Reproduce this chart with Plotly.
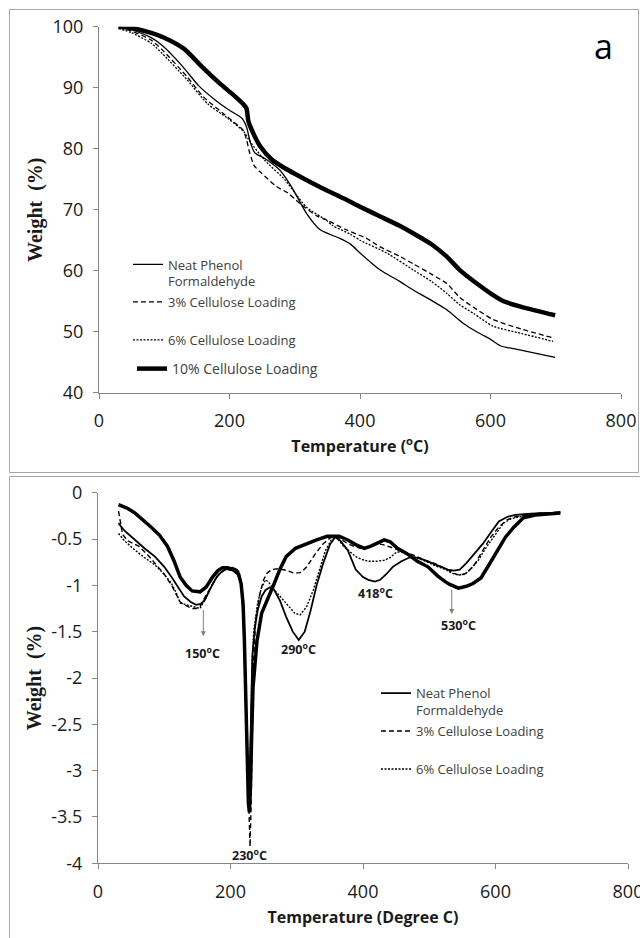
import plotly.graph_objects as go

# ---------------- TGA (top panel) ----------------
T_neat = [30, 50, 80, 97, 128, 153, 178, 200, 219, 226, 232, 239, 254, 277, 290, 298, 318, 339, 369, 385, 400, 431, 460, 482, 510, 533, 558, 580, 598, 615, 650, 699]
W_neat = [100, 99.5, 98.2, 96.9, 93.5, 90.3, 88.0, 86.3, 85.0, 83.6, 81.0, 79.3, 78.4, 76.5, 74.6, 73.2, 69.4, 66.7, 65.3, 64.4, 62.9, 60.1, 58.3, 56.8, 55.1, 53.6, 51.4, 49.9, 48.9, 47.7, 46.9, 45.8]

T_3 = [30, 50, 80, 97, 135, 160, 197, 221, 226, 231, 238, 249, 272, 290, 308, 335, 349, 379, 410, 431, 460, 482, 510, 533, 553, 574, 604, 648, 696]
W_3 = [99.8, 99.3, 97.8, 96.2, 91.8, 88.5, 85.2, 83.0, 81.5, 79.3, 77.2, 76.0, 73.8, 72.7, 71.0, 68.9, 68.3, 66.7, 65.3, 63.9, 62.4, 61.1, 59.4, 57.9, 55.6, 54.0, 52.0, 50.4, 49.0]

T_6 = [30, 50, 80, 97, 135, 166, 197, 222, 230, 254, 285, 300, 318, 348, 358, 385, 400, 441, 482, 510, 533, 553, 574, 604, 648, 696]
W_6 = [99.7, 99.0, 97.3, 95.6, 91.3, 87.4, 85.0, 82.8, 81.4, 78.1, 74.9, 72.8, 70.4, 68.3, 67.4, 66.0, 65.0, 62.9, 60.1, 58.2, 56.3, 54.4, 53.0, 50.9, 49.7, 48.4]

T_10 = [30, 50, 80, 100, 130, 160, 185, 205, 222, 226, 229, 234, 247, 265, 285, 300, 328, 360, 380, 400, 431, 460, 482, 510, 533, 553, 579, 600, 620, 650, 699]
W_10 = [100, 99.8, 99.0, 98.2, 96.4, 93.2, 90.7, 88.9, 87.2, 86.6, 84.5, 83.1, 80.4, 78.2, 76.8, 75.9, 74.3, 72.6, 71.6, 70.5, 68.9, 67.4, 66.1, 64.3, 62.3, 60.1, 57.9, 56.3, 55.0, 54.0, 52.7]

# ---------------- DTG (bottom panel) ----------------
Td_neat = [31, 40, 56, 70, 86, 100, 111, 122, 130, 140, 148, 155, 161, 170, 179, 187, 195, 203, 210, 214, 217, 220, 222, 224, 226, 227.5, 229, 231, 233, 237, 241, 247, 253, 260, 266, 275, 284, 294, 303, 312, 321, 330, 340, 350, 358, 366, 377, 389, 400, 408, 418, 426, 435, 445, 458, 470, 482, 494, 507, 519, 528, 537, 546, 556, 568, 581, 593, 605, 618, 630, 648, 667, 683, 698]
D_neat = [-0.33, -0.41, -0.51, -0.60, -0.69, -0.80, -0.91, -1.03, -1.12, -1.18, -1.21, -1.20, -1.16, -1.03, -0.91, -0.85, -0.82, -0.81, -0.83, -0.90, -1.01, -1.3, -1.8, -2.5, -3.1, -3.4, -3.1, -2.3, -1.75, -1.45, -1.27, -1.12, -1.05, -1.02, -1.05, -1.17, -1.34, -1.50, -1.59, -1.50, -1.27, -1.00, -0.76, -0.56, -0.48, -0.52, -0.62, -0.83, -0.91, -0.94, -0.96, -0.94, -0.88, -0.80, -0.74, -0.70, -0.70, -0.73, -0.77, -0.80, -0.83, -0.84, -0.83, -0.76, -0.66, -0.55, -0.43, -0.31, -0.26, -0.24, -0.23, -0.22, -0.22, -0.21]

Td_3 = [31, 34, 37, 45, 62, 75, 86, 100, 111, 118, 124, 133, 142, 148, 154, 162, 173, 182, 192, 203, 213, 217, 220, 222, 224, 226, 228, 229.5, 231, 233, 235, 238, 244, 250, 255, 262, 272, 285, 297, 307, 315, 328, 340, 350, 358, 366, 377, 387, 396, 408, 420, 430, 439, 451, 463, 478, 494, 507, 519, 530, 537, 546, 556, 568, 581, 593, 605, 618, 630, 648, 667, 683, 698]
D_3 = [-0.2, -0.35, -0.45, -0.52, -0.58, -0.67, -0.76, -0.88, -1.0, -1.1, -1.18, -1.22, -1.25, -1.25, -1.23, -1.12, -0.98, -0.88, -0.83, -0.84, -0.87, -1.09, -1.5, -2.0, -2.6, -3.2, -3.6, -3.82, -3.4, -2.4, -1.8, -1.37, -1.1, -0.94, -0.87, -0.83, -0.82, -0.84, -0.87, -0.86, -0.80, -0.66, -0.55, -0.49, -0.47, -0.50, -0.55, -0.58, -0.60, -0.59, -0.55, -0.56, -0.58, -0.61, -0.64, -0.68, -0.73, -0.76, -0.80, -0.84, -0.87, -0.89, -0.87, -0.78, -0.62, -0.48, -0.37, -0.29, -0.26, -0.24, -0.22, -0.22, -0.21]

Td_6 = [31, 40, 56, 70, 86, 100, 111, 118, 124, 133, 142, 148, 154, 162, 173, 182, 192, 203, 213, 218, 221, 223, 225, 227, 228.5, 230, 232, 235, 241, 247, 253, 258, 266, 275, 284, 297, 305, 315, 325, 334, 343, 352, 360, 371, 380, 389, 398, 408, 420, 432, 441, 451, 463, 476, 488, 500, 513, 525, 535, 544, 553, 562, 575, 587, 600, 612, 624, 636, 655, 673, 698]
D_6 = [-0.44, -0.52, -0.62, -0.70, -0.78, -0.88, -0.98, -1.08, -1.19, -1.21, -1.23, -1.24, -1.25, -1.15, -0.98, -0.88, -0.83, -0.82, -0.85, -1.1, -1.5, -2.1, -2.8, -3.3, -3.4, -2.8, -2.0, -1.5, -1.19, -1.02, -0.94, -0.97, -1.05, -1.12, -1.19, -1.30, -1.32, -1.23, -1.05, -0.83, -0.63, -0.51, -0.48, -0.58, -0.64, -0.69, -0.72, -0.74, -0.74, -0.73, -0.70, -0.64, -0.64, -0.69, -0.72, -0.76, -0.80, -0.83, -0.87, -0.89, -0.88, -0.83, -0.72, -0.58, -0.45, -0.33, -0.28, -0.26, -0.24, -0.22, -0.21]

Td_10 = [31, 45, 56, 68, 80, 93, 105, 115, 124, 133, 142, 154, 163, 173, 181, 188, 196, 204, 212, 216, 219, 221, 223, 225, 227, 228.5, 230, 232, 234, 237, 240, 247, 253, 259, 266, 275, 284, 298, 315, 330, 346, 364, 377, 389, 402, 411, 420, 432, 441, 452, 467, 482, 498, 513, 524, 531, 544, 556, 566, 578, 590, 603, 615, 628, 642, 660, 680, 698]
D_10 = [-0.13, -0.17, -0.22, -0.29, -0.37, -0.46, -0.58, -0.74, -0.91, -1.0, -1.06, -1.07, -1.02, -0.91, -0.84, -0.81, -0.81, -0.83, -0.88, -0.98, -1.2, -1.6, -2.2, -2.9, -3.35, -3.45, -3.2, -2.6, -2.1, -1.85, -1.6, -1.3, -1.2, -1.12, -0.98, -0.82, -0.69, -0.60, -0.55, -0.51, -0.47, -0.47, -0.51, -0.56, -0.60, -0.58, -0.55, -0.51, -0.53, -0.60, -0.66, -0.74, -0.80, -0.90, -0.96, -0.99, -1.03, -1.01, -0.98, -0.92, -0.78, -0.62, -0.48, -0.37, -0.27, -0.24, -0.23, -0.22]

x_ticks = [0, 200, 400, 600, 800]
y1_ticks = [40, 50, 60, 70, 80, 90, 100]
y2_ticks = [0, -0.5, -1, -1.5, -2, -2.5, -3, -3.5, -4]
y2_text = ["0", "-0.5", "-1", "-1.5", "-2", "-2.5", "-3", "-3.5", "-4"]

peak_labels = ["150", "230", "290", "418", "530"]
peak_x = [157, 229, 303, 419, 544]
peak_y = [-1.73, -3.91, -1.69, -1.08, -1.43]

W, H = 640, 938
def px(x): return x / W
def py(y): return 1 - y / H

FONT = "Open Sans"
AX = "#868686"
TXT = "#1a1a1a"
LEG = "#404040"

fig = go.Figure()

# top traces
fig.add_trace(go.Scatter(x=T_neat, y=W_neat, mode="lines", name="Neat Phenol<br>Formaldehyde",
                         line=dict(color="black", width=1.3, shape="spline", smoothing=0.6),
                         xaxis="x", yaxis="y", legend="legend"))
fig.add_trace(go.Scatter(x=T_3, y=W_3, mode="lines", name="3% Cellulose Loading",
                         line=dict(color="black", width=1.3, dash="5px,3px", shape="spline", smoothing=0.6),
                         xaxis="x", yaxis="y", legend="legend2"))
fig.add_trace(go.Scatter(x=T_6, y=W_6, mode="lines", name="6% Cellulose Loading",
                         line=dict(color="black", width=1.3, dash="2px,1.5px", shape="spline", smoothing=0.6),
                         xaxis="x", yaxis="y", legend="legend3"))
fig.add_trace(go.Scatter(x=T_10, y=W_10, mode="lines", name="10% Cellulose Loading",
                         line=dict(color="black", width=4.5, shape="spline", smoothing=0.6),
                         xaxis="x", yaxis="y", legend="legend4"))

# bottom traces
fig.add_trace(go.Scatter(x=Td_10, y=D_10, mode="lines", name="10% Cellulose Loading",
                         line=dict(color="black", width=3.5), showlegend=False,
                         xaxis="x2", yaxis="y2"))
fig.add_trace(go.Scatter(x=Td_neat, y=D_neat, mode="lines", name="Neat Phenol<br>Formaldehyde",
                         line=dict(color="black", width=1.8),
                         xaxis="x2", yaxis="y2", legend="legend5"))
fig.add_trace(go.Scatter(x=Td_3, y=D_3, mode="lines", name="3% Cellulose Loading",
                         line=dict(color="black", width=1.4, dash="5px,3px"),
                         xaxis="x2", yaxis="y2", legend="legend6"))
fig.add_trace(go.Scatter(x=Td_6, y=D_6, mode="lines", name="6% Cellulose Loading",
                         line=dict(color="black", width=1.4, dash="2px,1.5px"),
                         xaxis="x2", yaxis="y2", legend="legend7"))

axis_common = dict(showline=True, linecolor=AX, linewidth=1, ticks="outside", ticklen=5,
                   tickcolor=AX, showgrid=False, zeroline=False, automargin=False,
                   ticklabeloverflow="allow",
                   tickfont=dict(family=FONT, size=18, color=TXT))

ytitle_font = dict(family="Liberation Serif, Times New Roman, serif", size=20, color=TXT)
xtitle_font = dict(family=FONT, size=16, color=TXT)

def leg(x, y, size=13, valign="middle"):
    return dict(x=px(x), y=py(y), xanchor="left", yanchor="middle", bgcolor="rgba(0,0,0,0)",
                borderwidth=0, font=dict(family=FONT, size=size, color=LEG), valign=valign,
                tracegroupgap=0, itemwidth=30)

fig.update_layout(
    width=W, height=H, margin=dict(l=0, r=0, t=0, b=0, pad=0, autoexpand=False),
    paper_bgcolor="white", plot_bgcolor="white",
    xaxis=dict(domain=[px(99), px(621)], range=[0, 800], tickvals=x_ticks, anchor="y",
               ticklabelstandoff=7,
               title=dict(text="<b>Temperature (<sup>o</sup>C)</b>", font=xtitle_font, standoff=9),
               **axis_common),
    yaxis=dict(domain=[py(392.7), py(26.7)], range=[40, 100], tickvals=y1_ticks, anchor="x",
               ticklabelstandoff=6,
               title=dict(text="<b>Weight\u00a0 (%)</b>", font=ytitle_font, standoff=4),
               **axis_common),
    xaxis2=dict(domain=[px(98), px(628)], range=[0, 800], tickvals=x_ticks, anchor="y2",
                ticklabelstandoff=7,
                title=dict(text="<b>Temperature (Degree C)</b>", font=xtitle_font, standoff=9),
                **axis_common),
    yaxis2=dict(domain=[py(863.3), py(492.7)], range=[-4, 0], tickvals=y2_ticks, ticktext=y2_text,
                anchor="x2", ticklabelstandoff=6,
                title=dict(text="<b>Weight\u00a0 (%)</b>", font=ytitle_font, standoff=4),
                **axis_common),
    legend=leg(128, 264 + 9, valign="top"),
    legend2=leg(128, 302),
    legend3=leg(128, 340),
    legend4=leg(132, 369, size=14),
    legend5=leg(376, 692.7 + 9, valign="top"),
    legend6=leg(376, 731),
    legend7=leg(376, 769),
    showlegend=True,
)

# panel borders
fig.add_shape(type="rect", xref="paper", yref="paper", x0=px(9.5), x1=px(638.5), y0=py(472.5), y1=py(9.5),
              line=dict(color="#a6a6a6", width=1), fillcolor="rgba(0,0,0,0)", layer="below")
fig.add_shape(type="rect", xref="paper", yref="paper", x0=px(9.5), x1=px(660), y0=py(960), y1=py(476.5),
              line=dict(color="#a6a6a6", width=1), fillcolor="rgba(0,0,0,0)", layer="below")

ann = []
ann.append(dict(text="a", x=px(603), y=py(46), xref="paper", yref="paper", showarrow=False,
                xanchor="center", yanchor="middle",
                font=dict(family=FONT, size=34, color="black")))
# peak labels
for lab, xx, yy in zip(peak_labels, peak_x, peak_y):
    ann.append(dict(text="<b>%s<sup>o</sup>C</b>" % lab, x=xx, y=yy, xref="x2", yref="y2", showarrow=False,
                    font=dict(family=FONT, size=12.5, color=TXT)))
# arrows
for xx, y_tail, y_head in [(159, -1.25, -1.55), (534, -1.03, -1.31)]:
    ann.append(dict(text="", x=xx, y=y_head, ax=xx, ay=y_tail, xref="x2", yref="y2", axref="x2", ayref="y2",
                    showarrow=True, arrowhead=2, arrowsize=1, arrowwidth=1, arrowcolor="#7f7f7f"))
fig.update_layout(annotations=ann)

fig.write_html("out.html")
